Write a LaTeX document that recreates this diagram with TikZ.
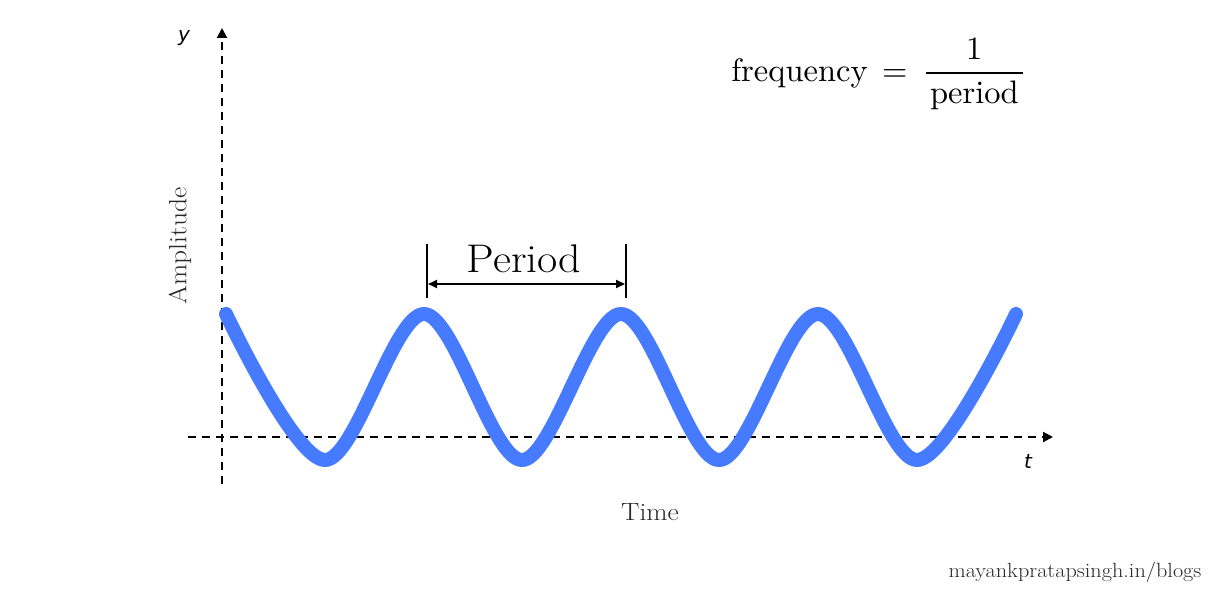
\documentclass[tikz,border=0pt]{standalone}
\usepackage{fontspec}
\usetikzlibrary{arrows.meta}
\newfontfamily\axisfont{DejaVu Sans}
\definecolor{waveblue}{RGB}{71,123,255}
\definecolor{labelgray}{RGB}{40,40,40}
\tikzset{
  axisline/.style={line width=2pt, dash pattern=on 8pt off 6pt, -{Triangle[length=10pt,width=10pt]}},
  wave/.style={line width=14pt, line cap=round, line join=round, color=waveblue},
  tick/.style={line width=1.6pt},
  perarrow/.style={line width=2pt, {Triangle[length=9pt,width=8pt]}-{Triangle[length=9pt,width=8pt]}},
  axislabel/.style={font=\axisfont\itshape\fontsize{20}{24}\selectfont, inner sep=0pt},
  caption/.style={font=\fontsize{25}{30}\selectfont, text=labelgray, inner sep=0pt}
}
\begin{document}
\begin{tikzpicture}[x=1pt,y=-1pt]
\useasboundingbox (0,0) rectangle (1212,602);
% axes
\coordinate (yb) at (222,484);
\coordinate (yt) at (222,28);
\coordinate (xl) at (188,437);
\coordinate (xr) at (1053,437);
\draw[axisline] (yb) -- (yt);
\draw[axisline] (xl) -- (xr);
\node[axislabel] (ylab) at (184,38) {y};
\node[axislabel] (tlab) at (1028,461) {t};
% wave
\draw[wave] plot[smooth, tension=0.55] coordinates {(226,314) (325,460) (424,314) (522,460) (621,314) (719,460) (818,314) (917,460) (1016,314)};
% period marker
\coordinate (p1t) at (427,244);
\coordinate (p1b) at (427,298);
\coordinate (p2t) at (626,244);
\coordinate (p2b) at (626,298);
\draw[tick] (p1t) -- (p1b);
\draw[tick] (p2t) -- (p2b);
\coordinate (a1) at (428,284);
\coordinate (a2) at (625,284);
\draw[perarrow] (a1) -- (a2);
\node[font=\fontsize{40}{48}\selectfont, inner sep=0pt, xscale=1.1] (per) at (524,259) {Period};
% formula
\node[inner sep=0pt, font=\fontsize{10}{12}\selectfont, scale=3.25] (freq) at (879,74) {$\displaystyle \mathrm{frequency}\,=\,\frac{1}{\hspace{1.3pt}\mathrm{period}\hspace{1.3pt}}$};
% captions
\node[caption, rotate=90, xscale=1.1] (amp) at (180,246) {Amplitude};
\node[caption, xscale=1.1] (time) at (650,512) {Time};
\node[inner sep=0pt, text=labelgray, font=\fontsize{20.5}{24}\selectfont, xscale=1.085] (wm) at (1075,572) {mayankpratapsingh.in/blogs};
\end{tikzpicture}
\end{document}
